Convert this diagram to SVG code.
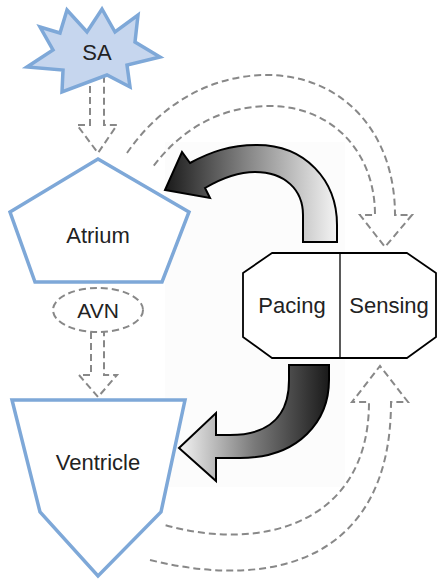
<svg xmlns="http://www.w3.org/2000/svg" width="437" height="580" viewBox="0 0 437 580">
<style>
.lbl{font-family:"Liberation Sans",Arial,sans-serif;font-size:22px;fill:#222;text-anchor:middle}
.blue{fill:#fff;stroke:#7ea8d8;stroke-width:3.5;stroke-linejoin:miter}
.dash{fill:none;stroke:#888;stroke-width:2;stroke-dasharray:7 4}
.big{stroke:#000;stroke-width:2;stroke-linejoin:miter}
</style>
<defs>
<linearGradient id="gUp" gradientUnits="userSpaceOnUse" x1="165" y1="0" x2="337" y2="0">
<stop offset="0" stop-color="#1a1a1a"/><stop offset="0.5" stop-color="#8a8a8a"/><stop offset="1" stop-color="#f4f4f4"/>
</linearGradient>
<linearGradient id="gDn" gradientUnits="userSpaceOnUse" x1="179" y1="0" x2="329" y2="0">
<stop offset="0" stop-color="#f4f4f4"/><stop offset="0.5" stop-color="#7a7a7a"/><stop offset="1" stop-color="#1a1a1a"/>
</linearGradient>
</defs>
<rect x="165" y="142" width="180" height="345" fill="#fcfcfc"/>
<g id="connectors">
<path class="dash" d="M90,75 V125 H77 L98,153 L117,125 H104 V75"/>
<path class="dash" d="M91,332 V375 H79 L98,397 L117,375 H104 V332"/>
<path class="dash" d="M127,153 C160,105 210,75 267,75 C340,75 395,130 395,215 H412 L385,247 L360,215 H375 C375,150 330,106 270,106 C220,106 180,130 152,168"/>
<path class="dash" d="M150,560 C280,592 391,555 391,402 H408 L380,366 L352,402 H369 C369,525 260,552 165,525"/>
<path id="pace-atrium" class="big" fill="url(#gUp)" d="M337,242 V225 C337,180 305,145 257,145 C230,145 210,152 190,163 L182,152 L165,190 L210,198 L205,188 C222,178 238,172 255,172 C285,172 303,190 303,215 V242 Z"/>
<path id="pace-ventricle" class="big" fill="url(#gDn)" d="M289,365 V380 C289,415 270,435 230,435 H216 V413 L179,448 L216,481 V458 H240 C300,458 329,420 329,380 V365 Z"/>
</g>
<g id="SA">
<polygon points="40,27 60,33 67,10 87,32 102,9 115,32 138,15 135,42 160,57 127,65 130,87 107,75 62,92 63,70 27,67 53,50" fill="#c6d6ee" stroke="#7ea8d8" stroke-width="3.5"/>
<text class="lbl" x="97" y="60">SA</text>
</g>
<g id="Atrium">
<polygon class="blue" points="98,159 189,212 162,282 35,282 10,212"/>
<text class="lbl" x="98" y="243">Atrium</text>
</g>
<g id="AVN">
<ellipse cx="98" cy="310" rx="45" ry="22" fill="#fff" stroke="#888" stroke-width="2" stroke-dasharray="7 4"/>
<text class="lbl" x="98" y="318" style="font-size:21px">AVN</text>
</g>
<g id="Ventricle">
<polygon class="blue" points="12,400 185,400 161,512 98,576 40,512"/>
<text class="lbl" x="98" y="470">Ventricle</text>
</g>
<g id="Device">
<path d="M272,253 H407 L436,273 V337 L407,358 H272 L243,337 V273 Z" fill="#fff" stroke="#000" stroke-width="1.8" stroke-linejoin="round"/>
<line x1="340" y1="253" x2="340" y2="358" stroke="#000" stroke-width="1.3"/>
<text class="lbl" x="292" y="313">Pacing</text>
<text class="lbl" x="389" y="313">Sensing</text>
</g>
</svg>
